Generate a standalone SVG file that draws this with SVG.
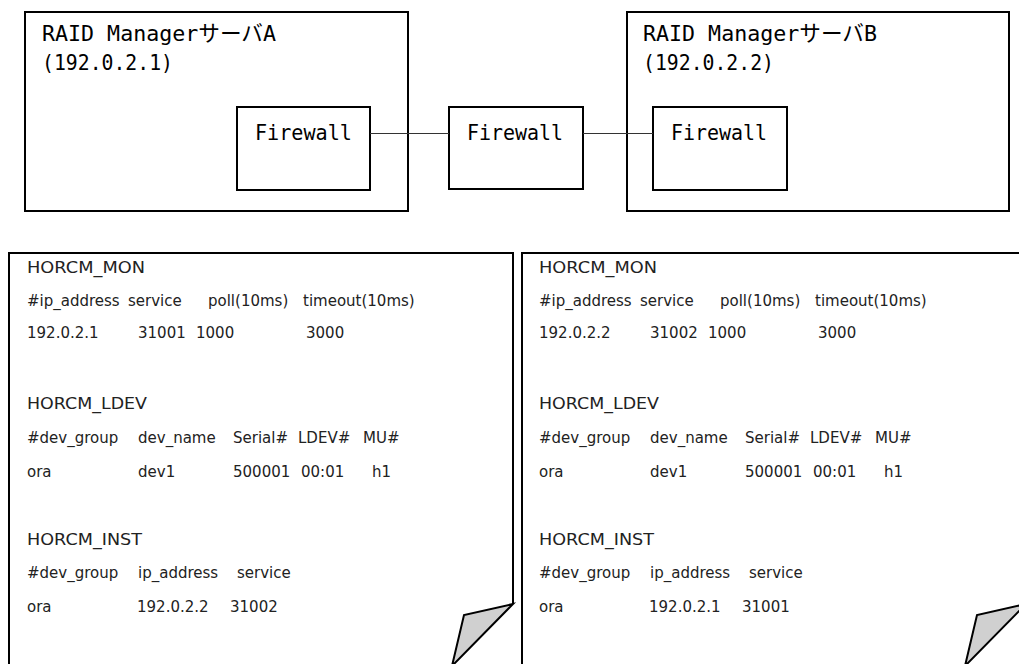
<svg xmlns="http://www.w3.org/2000/svg" width="1019" height="664" viewBox="0 0 1019 664">
<style>
.box{fill:#fff;stroke:#000;stroke-width:2}
.fw{fill:#fff;stroke:#000;stroke-width:2}
.conn{stroke:#333;stroke-width:1;fill:none}
.doc{fill:none;stroke:#000;stroke-width:2}
.fold{fill:#d0d0d0;stroke:#000;stroke-width:2;stroke-linejoin:miter}
.mono{font-family:"DejaVu Sans Mono","Noto Sans CJK JP",monospace;font-size:22px;fill:#000}
.t{font-family:"DejaVu Sans","Liberation Sans",sans-serif;font-size:15px;fill:#222}
</style>
<rect width="1019" height="664" fill="#fff"/>
<g id="serverA">
<rect class="box" x="25" y="12" width="383" height="199"/>
<text class="mono" x="42" y="41" textLength="234" lengthAdjust="spacingAndGlyphs">RAID ManagerサーバA</text>
<text class="mono" x="42" y="70" textLength="131" lengthAdjust="spacingAndGlyphs">(192.0.2.1)</text>
</g>
<g id="firewallA">
<rect class="fw" x="237" y="107" width="133" height="83"/>
<text class="mono" x="255" y="140" textLength="97" lengthAdjust="spacingAndGlyphs">Firewall</text>
</g>
<g id="firewallMid">
<rect class="fw" x="449" y="107" width="134" height="82"/>
<text class="mono" x="467" y="140" textLength="96" lengthAdjust="spacingAndGlyphs">Firewall</text>
</g>
<g id="serverB">
<rect class="box" x="627" y="12" width="382" height="199"/>
<text class="mono" x="643" y="41" textLength="234" lengthAdjust="spacingAndGlyphs">RAID ManagerサーバB</text>
<text class="mono" x="643" y="70" textLength="131" lengthAdjust="spacingAndGlyphs">(192.0.2.2)</text>
</g>
<g id="firewallB">
<rect class="fw" x="653" y="107" width="134" height="83"/>
<text class="mono" x="671" y="140" textLength="96" lengthAdjust="spacingAndGlyphs">Firewall</text>
</g>
<g id="connectors">
<line class="conn" x1="370" y1="133.5" x2="449" y2="133.5"/>
<line class="conn" x1="583" y1="133.5" x2="653" y2="133.5"/>
</g>
<g id="configA">
<path class="doc" d="M9,666 V253 H513 V604"/>
<polygon class="fold" points="513,604 464,615 452,666"/>
<text class="t" x="27" y="273" textLength="118" lengthAdjust="spacingAndGlyphs">HORCM_MON</text>
<text class="t" y="306"><tspan x="27">#ip_address</tspan><tspan x="128">service</tspan><tspan x="208">poll(10ms)</tspan><tspan x="303">timeout(10ms)</tspan></text>
<text class="t" y="338"><tspan x="27">192.0.2.1</tspan><tspan x="138">31001</tspan><tspan x="196">1000</tspan><tspan x="306">3000</tspan></text>
<text class="t" x="27" y="409" textLength="120" lengthAdjust="spacingAndGlyphs">HORCM_LDEV</text>
<text class="t" y="443"><tspan x="27">#dev_group</tspan><tspan x="138">dev_name</tspan><tspan x="233">Serial#</tspan><tspan x="298">LDEV#</tspan><tspan x="363">MU#</tspan></text>
<text class="t" y="477"><tspan x="27">ora</tspan><tspan x="138">dev1</tspan><tspan x="233">500001</tspan><tspan x="301">00:01</tspan><tspan x="372">h1</tspan></text>
<text class="t" x="27" y="545" textLength="115" lengthAdjust="spacingAndGlyphs">HORCM_INST</text>
<text class="t" y="578"><tspan x="27">#dev_group</tspan><tspan x="138">ip_address</tspan><tspan x="237">service</tspan></text>
<text class="t" y="612"><tspan x="27">ora</tspan><tspan x="137">192.0.2.2</tspan><tspan x="230">31002</tspan></text>
</g>
<g id="configB">
<path class="doc" d="M522,666 V253 H1026 V604"/>
<polygon class="fold" points="1026,604 977,615 965,666"/>
<text class="t" x="539" y="273" textLength="118" lengthAdjust="spacingAndGlyphs">HORCM_MON</text>
<text class="t" y="306"><tspan x="539">#ip_address</tspan><tspan x="640">service</tspan><tspan x="720">poll(10ms)</tspan><tspan x="815">timeout(10ms)</tspan></text>
<text class="t" y="338"><tspan x="539">192.0.2.2</tspan><tspan x="650">31002</tspan><tspan x="708">1000</tspan><tspan x="818">3000</tspan></text>
<text class="t" x="539" y="409" textLength="120" lengthAdjust="spacingAndGlyphs">HORCM_LDEV</text>
<text class="t" y="443"><tspan x="539">#dev_group</tspan><tspan x="650">dev_name</tspan><tspan x="745">Serial#</tspan><tspan x="810">LDEV#</tspan><tspan x="875">MU#</tspan></text>
<text class="t" y="477"><tspan x="539">ora</tspan><tspan x="650">dev1</tspan><tspan x="745">500001</tspan><tspan x="813">00:01</tspan><tspan x="884">h1</tspan></text>
<text class="t" x="539" y="545" textLength="115" lengthAdjust="spacingAndGlyphs">HORCM_INST</text>
<text class="t" y="578"><tspan x="539">#dev_group</tspan><tspan x="650">ip_address</tspan><tspan x="749">service</tspan></text>
<text class="t" y="612"><tspan x="539">ora</tspan><tspan x="649">192.0.2.1</tspan><tspan x="742">31001</tspan></text>
</g>
</svg>
